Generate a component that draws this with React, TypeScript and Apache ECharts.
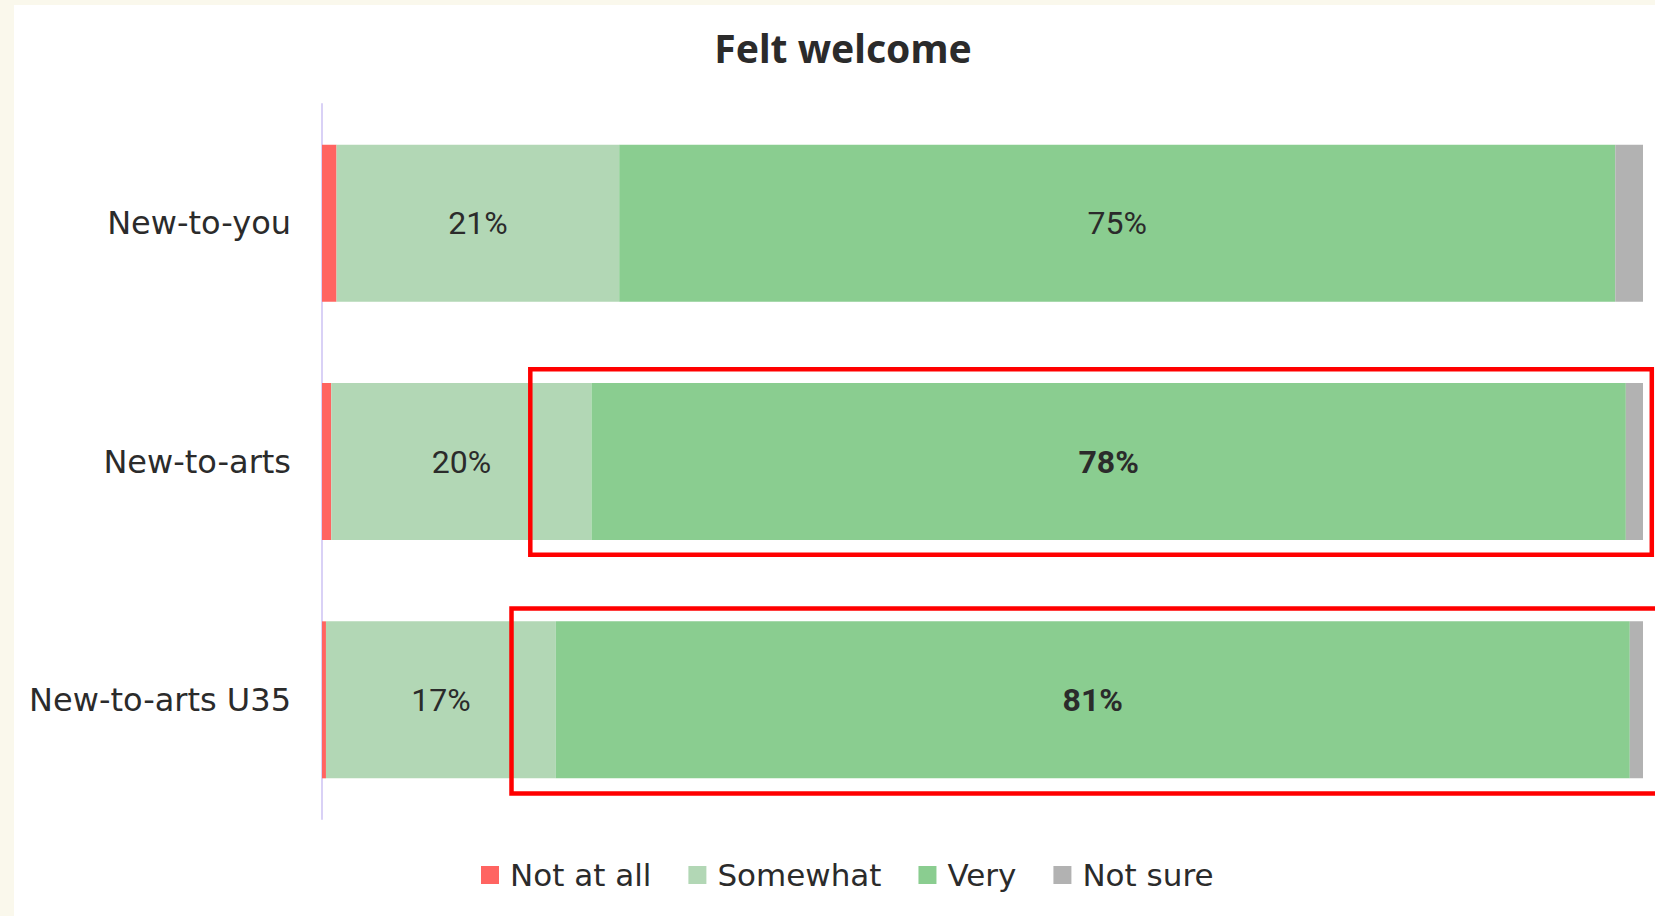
import React, { useEffect, useRef } from "react";
import * as echarts from "echarts";

const categories = ["New-to-you", "New-to-arts", "New-to-arts U35"];
const seriesNames = ["Not at all", "Somewhat", "Very", "Not sure"];
const notAtAll = [1.1, 0.7, 0.3];
const somewhat = [21.4, 19.7, 17.4];
const very = [75.4, 78.3, 81.3];
const notSure = [2.1, 1.3, 1.0];
const boldVery = [false, true, true];
const colors = ["#FF6461", "#B2D7B5", "#8ACD90", "#B2B2B2"];
const title = "Felt welcome";

const TEXT = "#2b2b2b";

export default function App() {
  const ref = useRef<HTMLDivElement>(null);
  useEffect(() => {
    if (!ref.current) return;
    const chart = echarts.init(ref.current, null, { renderer: "svg" });
    const pctLabel = (bold: boolean) => ({
      show: true,
      position: "inside",
      formatter: (p: any) => `${Math.round(p.value)}%`,
      color: TEXT,
      fontFamily: "Roboto",
      fontSize: 32,
      fontWeight: bold ? "bold" : "normal",
    });
    const mk = (name: string, data: number[], idx: number, labelled: boolean, bolds?: boolean[]) => ({
      name,
      type: "bar",
      stack: "total",
      barWidth: 157,
      itemStyle: { color: colors[idx] },
      label: labelled ? pctLabel(false) : { show: false },
      data: data.map((v, i) =>
        bolds && bolds[i] ? { value: v, label: pctLabel(true) } : { value: v }
      ),
    });
    chart.setOption({
      animation: false,
      backgroundColor: "transparent",
      grid: { left: 308, right: 12, top: 99, bottom: 97, containLabel: false },
      xAxis: { type: "value", min: 0, max: 100, show: false },
      yAxis: {
        type: "category",
        data: categories,
        inverse: true,
        axisLine: { show: true, lineStyle: { color: "#D9D1F6", width: 2 } },
        axisTick: { show: false },
        axisLabel: {
          margin: 31,
          color: TEXT,
          fontFamily: "DejaVu Sans",
          fontSize: 32,
        },
        splitLine: { show: false },
      },
      legend: {
        left: 462,
        top: 849,
        icon: "rect",
        itemWidth: 18,
        itemHeight: 18,
        itemGap: 37,
        data: seriesNames,
        textStyle: {
          color: TEXT,
          fontFamily: "DejaVu Sans",
          fontSize: 31,
          lineHeight: 32,
          padding: [0, 0, 0, 6],
        },
      },
      graphic: [
        {
          type: "text",
          x: 829,
          y: 42.5,
          style: {
            text: title,
            fill: TEXT,
            font: "bold 39px 'Noto Sans'",
            textAlign: "center",
            textVerticalAlign: "middle",
          },
        },
        {
          type: "rect",
          shape: { x: 516.3, y: 364.3, width: 1121.5, height: 185.5 },
          style: { fill: "none", stroke: "#FF0000", lineWidth: 4.5 },
          z: 100,
        },
        {
          type: "rect",
          shape: { x: 497.5, y: 603.5, width: 1160, height: 185 },
          style: { fill: "none", stroke: "#FF0000", lineWidth: 4.5 },
          z: 100,
        },
      ],
      series: [
        mk(seriesNames[0], notAtAll, 0, false),
        mk(seriesNames[1], somewhat, 1, true),
        mk(seriesNames[2], very, 2, true, boldVery),
        mk(seriesNames[3], notSure, 3, false),
      ],
    });
    return () => chart.dispose();
  }, []);
  return (
    <div
      style={{
        position: "fixed",
        left: 0,
        top: 0,
        width: 1655,
        height: 916,
        background: "#FAF8EC",
        overflow: "hidden",
      }}
    >
      <div
        ref={ref}
        style={{
          position: "absolute",
          left: 14,
          top: 5,
          width: 1641,
          height: 911,
          background: "#FFFFFF",
        }}
      />
    </div>
  );
}
